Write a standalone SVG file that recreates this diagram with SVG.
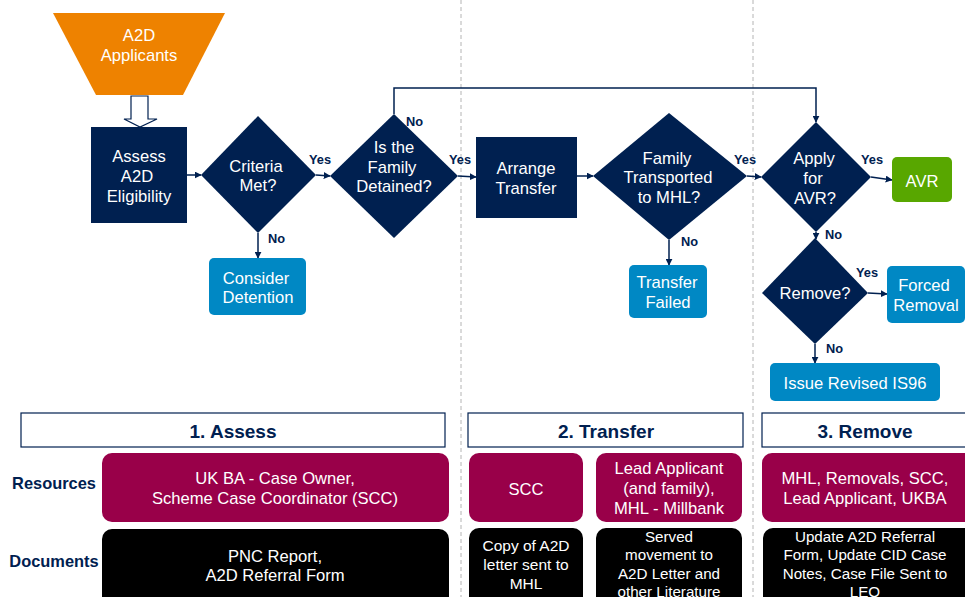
<svg xmlns="http://www.w3.org/2000/svg" width="965" height="597" viewBox="0 0 965 597">
  <defs>
    <marker id="arr" viewBox="0 0 10 10" refX="9" refY="5" markerWidth="7" markerHeight="7" markerUnits="userSpaceOnUse" orient="auto">
      <path d="M0,0 L10,5 L0,10 z" fill="#002050"/>
    </marker>
    <style>
      .t { font-family: "Liberation Sans", Arial, sans-serif; fill: #ffffff; text-anchor: middle; }
      .n16 { font-size: 16.6px; }
      .n15 { font-size: 15.5px; }
      .n14 { font-size: 15.2px; }
      .lbl { font-family: "Liberation Sans", Arial, sans-serif; font-size: 12.8px; font-weight: bold; fill: #002050; }
      .hdr { font-family: "Liberation Sans", Arial, sans-serif; font-size: 19px; font-weight: bold; fill: #002050; text-anchor: middle; }
      .side { font-family: "Liberation Sans", Arial, sans-serif; font-size: 16.4px; font-weight: bold; fill: #002050; text-anchor: middle; }
      .navy { fill: #002050; }
      .blue { fill: #0088C4; }
      .green { fill: #58A700; }
      .res { fill: #990049; }
      .doc { fill: #000000; }
      .phase { fill: #ffffff; stroke: #002050; stroke-width: 1.2; }
      .con { fill: none; stroke: #002050; stroke-width: 1.5; marker-end: url(#arr); }
      .div { stroke: #b4b4b4; stroke-width: 1; stroke-dasharray: 4 3; }
    </style>
  </defs>

  <rect width="965" height="597" fill="#ffffff"/>

  <!-- phase dividers -->
  <line class="div" x1="461" y1="0" x2="461" y2="597"/>
  <line class="div" x1="753" y1="0" x2="753" y2="597"/>

  <!-- connectors -->
  <g id="connectors">
    <path d="M131,96 L148,96 L148,119 L157,119 L140,127 L124,119 L131,119 Z" fill="#ffffff" stroke="#002050" stroke-width="1.2"/>
    <line class="con" x1="187" y1="175" x2="201" y2="175"/>
    <line class="con" x1="316" y1="175" x2="330" y2="176"/>
    <line class="con" x1="458" y1="176" x2="476" y2="177"/>
    <line class="con" x1="577" y1="176" x2="593" y2="176"/>
    <line class="con" x1="747" y1="176" x2="761" y2="177"/>
    <line class="con" x1="871" y1="177" x2="892" y2="180"/>
    <path class="con" d="M394,114 L394,88 L816,88 L816,122"/>
    <line class="con" x1="258" y1="233" x2="258" y2="258"/>
    <line class="con" x1="669" y1="240" x2="669" y2="265"/>
    <line class="con" x1="816" y1="232" x2="816" y2="239"/>
    <line class="con" x1="868" y1="293" x2="887" y2="294"/>
    <line class="con" x1="815" y1="344" x2="815" y2="363"/>
    <text class="lbl" x="309" y="164">Yes</text>
    <text class="lbl" x="406" y="126">No</text>
    <text class="lbl" x="449" y="164">Yes</text>
    <text class="lbl" x="734" y="164">Yes</text>
    <text class="lbl" x="861" y="164">Yes</text>
    <text class="lbl" x="268" y="243">No</text>
    <text class="lbl" x="681" y="246">No</text>
    <text class="lbl" x="825" y="239">No</text>
    <text class="lbl" x="856" y="277">Yes</text>
    <text class="lbl" x="826" y="353">No</text>
  </g>

  <!-- flow nodes -->
  <g id="applicants">
    <polygon points="53,13 225,13 183,95 96,95" fill="#EE8200"/>
    <text class="t n16" x="139" y="41">A2D</text>
    <text class="t n16" x="139" y="61">Applicants</text>
  </g>
  <g id="assess">
    <rect class="navy" x="91" y="127" width="96" height="96"/>
    <text class="t n16" x="139" y="162">Assess</text>
    <text class="t n16" x="137" y="182">A2D</text>
    <text class="t n16" x="139" y="202">Eligibility</text>
  </g>
  <g id="criteria">
    <polygon class="navy" points="258,116 316,175 258,233 201,175"/>
    <text class="t n16" x="256" y="172">Criteria</text>
    <text class="t n16" x="258" y="191">Met?</text>
  </g>
  <g id="detained">
    <polygon class="navy" points="394,114 458,176 394,238 330,176"/>
    <text class="t n16" x="394" y="153">Is the</text>
    <text class="t n16" x="392" y="173">Family</text>
    <text class="t n16" x="394" y="192">Detained?</text>
  </g>
  <g id="consider-detention">
    <rect class="blue" x="209" y="258" width="97" height="57" rx="5"/>
    <text class="t n16" x="256" y="284">Consider</text>
    <text class="t n16" x="258" y="303">Detention</text>
  </g>
  <g id="arrange-transfer">
    <rect class="navy" x="476" y="137" width="101" height="81"/>
    <text class="t n16" x="526" y="174">Arrange</text>
    <text class="t n16" x="526" y="194">Transfer</text>
  </g>
  <g id="transported">
    <polygon class="navy" points="669,113 747,176 669,240 593,176"/>
    <text class="t n16" x="667" y="164">Family</text>
    <text class="t n16" x="668" y="183">Transported</text>
    <text class="t n16" x="669" y="203">to MHL?</text>
  </g>
  <g id="transfer-failed">
    <rect class="blue" x="629" y="265" width="78" height="53" rx="5"/>
    <text class="t n16" x="667" y="288">Transfer</text>
    <text class="t n16" x="668" y="308">Failed</text>
  </g>
  <g id="apply-avr">
    <polygon class="navy" points="816,122 871,177 816,232 761,177"/>
    <text class="t n16" x="814" y="164">Apply</text>
    <text class="t n16" x="813" y="184">for</text>
    <text class="t n16" x="815" y="204">AVR?</text>
  </g>
  <g id="avr">
    <rect class="green" x="892" y="157" width="60" height="45" rx="5"/>
    <text class="t n16" x="922" y="187">AVR</text>
  </g>
  <g id="remove">
    <polygon class="navy" points="815,238 868,293 815,344 762,293"/>
    <text class="t n16" x="815" y="299">Remove?</text>
  </g>
  <g id="forced-removal">
    <rect class="blue" x="887" y="266" width="78" height="57" rx="5"/>
    <text class="t n16" x="924" y="291">Forced</text>
    <text class="t n16" x="926" y="311">Removal</text>
  </g>
  <g id="issue-is96">
    <rect class="blue" x="770" y="363" width="170" height="38" rx="5"/>
    <text class="t n16" x="855" y="389">Issue Revised IS96</text>
  </g>

  <!-- phase summary -->
  <g id="phase-assess">
    <rect class="phase" x="21" y="413" width="424" height="34"/>
    <text class="hdr" x="233" y="438">1. Assess</text>
  </g>
  <g id="phase-transfer">
    <rect class="phase" x="468" y="413" width="275" height="34"/>
    <text class="hdr" x="606" y="438">2. Transfer</text>
  </g>
  <g id="phase-remove">
    <rect class="phase" x="762" y="413" width="210" height="34"/>
    <text class="hdr" x="865" y="438">3. Remove</text>
  </g>

  <g id="row-labels">
    <text class="side" x="54" y="489">Resources</text>
    <text class="side" x="54" y="567">Documents</text>
  </g>

  <g id="res-assess">
    <rect class="res" x="102" y="453" width="347" height="69" rx="10"/>
    <text class="t n16" x="275" y="484">UK BA - Case Owner,</text>
    <text class="t n16" x="275" y="504">Scheme Case Coordinator (SCC)</text>
  </g>
  <g id="doc-assess">
    <rect class="doc" x="102" y="529" width="347" height="80" rx="10"/>
    <text class="t n16" x="275" y="562">PNC Report,</text>
    <text class="t n16" x="275" y="581">A2D Referral Form</text>
  </g>
  <g id="res-scc">
    <rect class="res" x="469" y="453" width="114" height="69" rx="10"/>
    <text class="t n16" x="526" y="495">SCC</text>
  </g>
  <g id="res-lead">
    <rect class="res" x="596" y="453" width="146" height="69" rx="10"/>
    <text class="t n16" x="669" y="474">Lead Applicant</text>
    <text class="t n16" x="669" y="494">(and family),</text>
    <text class="t n16" x="669" y="514">MHL - Millbank</text>
  </g>
  <g id="doc-copy">
    <rect class="doc" x="469" y="528" width="114" height="80" rx="10"/>
    <text class="t n15" x="526" y="551">Copy of A2D</text>
    <text class="t n15" x="526" y="570">letter sent to</text>
    <text class="t n15" x="526" y="589">MHL</text>
  </g>
  <g id="doc-served">
    <rect class="doc" x="596" y="528" width="146" height="80" rx="10"/>
    <text class="t n14" x="669" y="542">Served</text>
    <text class="t n14" x="669" y="560">movement to</text>
    <text class="t n14" x="669" y="579">A2D Letter and</text>
    <text class="t n14" x="669" y="597">other Literature</text>
  </g>
  <g id="res-remove">
    <rect class="res" x="762" y="453" width="213" height="69" rx="10"/>
    <text class="t n16" x="865" y="484">MHL, Removals, SCC,</text>
    <text class="t n16" x="865" y="504">Lead Applicant, UKBA</text>
  </g>
  <g id="doc-remove">
    <rect class="doc" x="763" y="528" width="212" height="80" rx="10"/>
    <text class="t n14" x="865" y="542">Update A2D Referral</text>
    <text class="t n14" x="865" y="560">Form, Update CID Case</text>
    <text class="t n14" x="865" y="579">Notes, Case File Sent to</text>
    <text class="t n14" x="865" y="597">LEO</text>
  </g>
</svg>
